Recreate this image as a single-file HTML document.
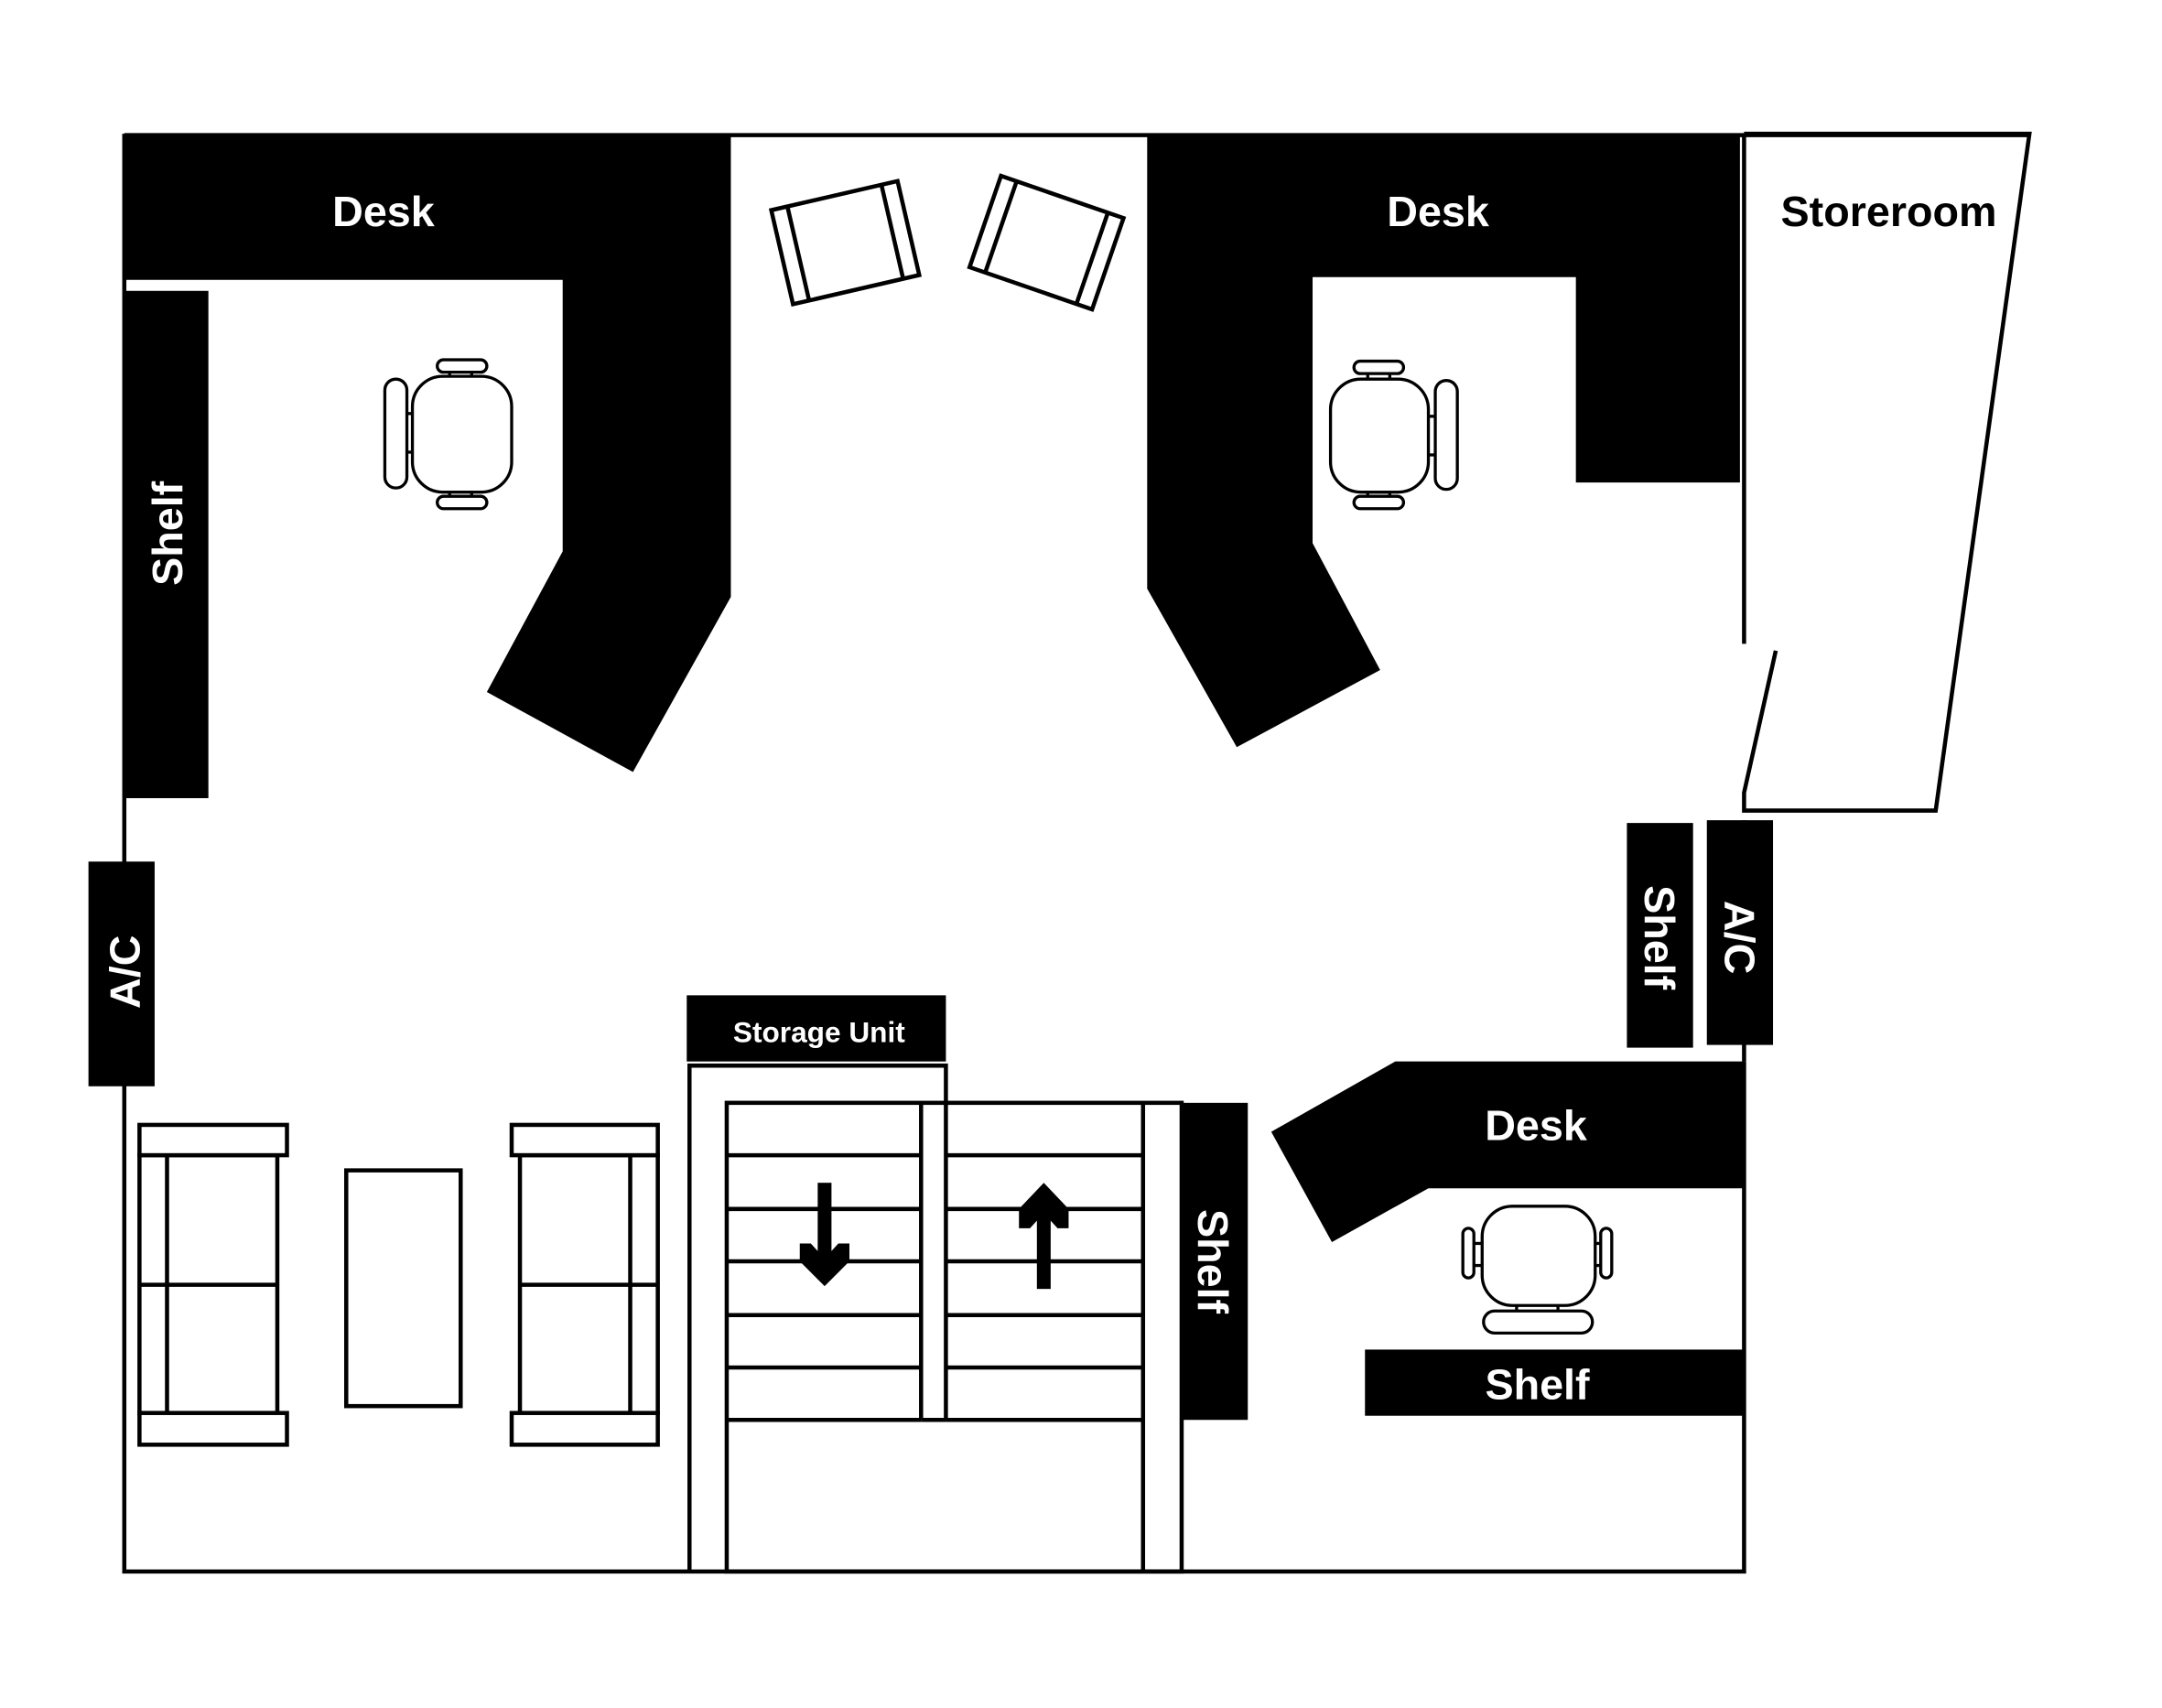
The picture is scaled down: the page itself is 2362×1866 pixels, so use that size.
<!DOCTYPE html>
<html><head><meta charset="utf-8"><style>
html,body{margin:0;padding:0;background:#fff;}
svg{display:block;}
text{font-family:"Liberation Sans",sans-serif;font-weight:bold;}
</style></head><body>
<svg width="2362" height="1866" viewBox="0 0 1568 1239" xmlns="http://www.w3.org/2000/svg">
<rect width="1568" height="1239" fill="#fff"/>
<g fill="none" stroke="#000" stroke-width="3">
  <!-- outer walls -->
  <polyline points="90,97 90,1140 1265,1140 1265,770"/>
  <line x1="1265" y1="595" x2="1265" y2="770"/>
  <line x1="90" y1="98" x2="1472" y2="98"/>
  <line x1="1265" y1="97" x2="1265" y2="467"/>
  <polyline points="1265,97 1472,97 1404,588 1265,588 1265,575 1288,472"/>
</g>
<!-- desks -->
<polygon points="90,97 530,97 530,433 459,560 353,502 408,400 408,203 90,203" fill="#000"/>
<polygon points="832,97 1262,97 1262,350 1143,350 1143,201 952,201 952,394 1001,486 897,542 832,427" fill="#000"/>
<polygon points="1012,770 1265,770 1265,862 1036,862 966,901 922,821" fill="#000"/>
<!-- shelves / AC -->
<rect x="90" y="211" width="61" height="368" fill="#000"/>
<rect x="64" y="625" width="48" height="163" fill="#000"/>
<rect x="1180" y="597" width="48" height="163" fill="#000"/>
<rect x="1238" y="595" width="48" height="163" fill="#000"/>
<rect x="857" y="800" width="48" height="230" fill="#000"/>
<rect x="990" y="979" width="274" height="48" fill="#000"/>
<rect x="498" y="722" width="188" height="48" fill="#000"/>
<!-- labels -->
<g fill="#fff" font-size="31" text-anchor="middle">
  <text x="278" y="164">Desk</text>
  <text x="1043" y="164">Desk</text>
  <text x="1114" y="827">Desk</text>
  <text x="1115" y="1015">Shelf</text>
  <text transform="translate(132,387) rotate(-90)">Shelf</text>
  <text transform="translate(101,705) rotate(-90)">A/C</text>
  <text transform="translate(1193,680) rotate(90)">Shelf</text>
  <text transform="translate(1251,680) rotate(90)">A/C</text>
  <text transform="translate(869,915) rotate(90)">Shelf</text>
  <text x="594" y="756" font-size="21">Storage Unit</text>
</g>
<text x="1370" y="164" font-size="31" text-anchor="middle" fill="#000">Storeroom</text>
<!-- lounge chairs -->
<g fill="#fff" stroke="#000" stroke-width="3">
  <g transform="translate(613,176) rotate(-13)">
    <rect x="-47" y="-35" width="94" height="70"/>
    <line x1="-35" y1="-35" x2="-35" y2="35"/>
    <line x1="35" y1="-35" x2="35" y2="35"/>
  </g>
  <g transform="translate(759,176) rotate(19)">
    <rect x="-47" y="-35" width="94" height="70"/>
    <line x1="-35" y1="-35" x2="-35" y2="35"/>
    <line x1="35" y1="-35" x2="35" y2="35"/>
  </g>
</g>
<!-- office chairs -->
<g fill="#fff" stroke="#000" stroke-width="2.2">
  <rect x="326" y="268" width="16" height="6"/><rect x="326" y="356" width="16" height="6"/>
  <rect x="294" y="300" width="6" height="28"/>
  <rect x="299" y="273" width="72" height="84" rx="22"/>
  <rect x="279" y="275" width="16" height="79" rx="8"/>
  <rect x="317" y="261" width="36" height="9" rx="4.5"/>
  <rect x="317" y="360" width="36" height="9" rx="4.5"/>

  <rect x="992" y="268" width="16" height="7"/><rect x="992" y="357" width="16" height="6"/>
  <rect x="1035" y="302" width="7" height="28"/>
  <rect x="965" y="275" width="71" height="82" rx="22"/>
  <rect x="1041" y="276" width="16" height="79" rx="8"/>
  <rect x="982" y="262" width="36" height="9" rx="4.5"/>
  <rect x="982" y="360" width="36" height="9" rx="4.5"/>

  <rect x="1068" y="902" width="8" height="16"/><rect x="1156" y="902" width="7" height="16"/>
  <rect x="1100" y="945" width="30" height="7"/>
  <rect x="1075" y="875" width="82" height="72" rx="22"/>
  <rect x="1076" y="951" width="79" height="16" rx="8"/>
  <rect x="1061" y="891" width="8" height="36" rx="4"/>
  <rect x="1161" y="891" width="8" height="36" rx="4"/>
</g>
<!-- sofas and table -->
<g fill="#fff" stroke="#000" stroke-width="3">
  <rect x="101" y="838" width="100" height="187"/>
  <line x1="121" y1="838" x2="121" y2="1025"/>
  <line x1="101" y1="932" x2="201" y2="932"/>
  <rect x="101" y="816" width="107" height="22"/>
  <rect x="101" y="1025" width="107" height="23"/>
  <rect x="377" y="838" width="100" height="187"/>
  <line x1="457" y1="838" x2="457" y2="1025"/>
  <line x1="377" y1="932" x2="477" y2="932"/>
  <rect x="371" y="816" width="106" height="22"/>
  <rect x="371" y="1025" width="106" height="23"/>
  <rect x="251" y="849" width="83" height="171"/>
</g>
<!-- storage & stairs -->
<g fill="none" stroke="#000" stroke-width="3">
  <polyline points="500,1140 500,773 686,773 686,800"/>
  <rect x="527" y="800" width="330" height="340"/>
  <line x1="668" y1="800" x2="668" y2="1030"/>
  <line x1="686" y1="800" x2="686" y2="1030"/>
  <line x1="829" y1="800" x2="829" y2="1140"/>
  <line x1="668" y1="1030" x2="686" y2="1030"/>
  <g>
    <line x1="527" y1="838" x2="668" y2="838"/><line x1="686" y1="838" x2="829" y2="838"/>
    <line x1="527" y1="877" x2="668" y2="877"/><line x1="686" y1="877" x2="829" y2="877"/>
    <line x1="527" y1="915" x2="668" y2="915"/><line x1="686" y1="915" x2="829" y2="915"/>
    <line x1="527" y1="954" x2="668" y2="954"/><line x1="686" y1="954" x2="829" y2="954"/>
    <line x1="527" y1="992" x2="668" y2="992"/><line x1="686" y1="992" x2="829" y2="992"/>
    <line x1="527" y1="1030" x2="668" y2="1030"/><line x1="686" y1="1030" x2="829" y2="1030"/>
  </g>
</g>
<!-- arrows -->
<g fill="#000">
  <rect x="593" y="858" width="10" height="70"/>
  <polygon points="580,902 588,902 598,913 608,902 616,902 616,915 598,933 580,915"/>
  <rect x="752" y="866" width="10" height="69"/>
  <polygon points="739,891 747,891 757,880 767,891 775,891 775,877 757,858 739,877"/>
</g>
</svg>
</body></html>
